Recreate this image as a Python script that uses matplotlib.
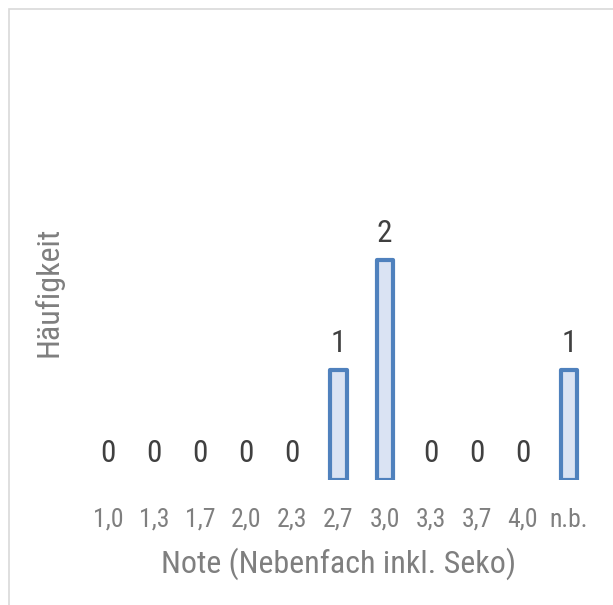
import matplotlib
matplotlib.use("Agg")
import matplotlib.pyplot as plt
from matplotlib.patches import Rectangle

categories = ["1,0", "1,3", "1,7", "2,0", "2,3", "2,7", "3,0", "3,3", "3,7", "4,0", "n.b."]
counts = [0, 0, 0, 0, 0, 1, 2, 0, 0, 0, 1]
x_title = "Note (Nebenfach inkl. Seko)"
y_title = "Häufigkeit"

FONT = ["Roboto Condensed", "DejaVu Sans"]
W, H = 613, 605
fig = plt.figure(figsize=(W / 100, H / 100), dpi=100)

# outer chart border (light gray, cut at right/bottom like the reference)
fig.patches.append(Rectangle((8.5 / W, -0.1), 1.2, 1 - 8.5 / H + 0.1, transform=fig.transFigure,
                             fill=False, edgecolor="#d9d9d9", linewidth=1.2))

ax_l, ax_r, ax_b, ax_t = 85, 592, 480, 40
ax = fig.add_axes([ax_l / W, (H - ax_b) / H, (ax_r - ax_l) / W, (ax_b - ax_t) / H])
xs = list(range(len(categories)))
bars = ax.bar(xs, counts, width=0.35, color="#dae3f3", edgecolor="#4f81bd", linewidth=3.0)
for b, v in zip(bars, counts):
    b.set_joinstyle("round")
    if v == 0:
        b.set_visible(False)
ax.set_xlim(-0.5, len(categories) - 0.5)
ax.set_ylim(0, 4)
for s in ax.spines.values():
    s.set_visible(False)
ax.set_yticks([])
ax.set_xticks(xs)
ax.set_xticklabels(categories, fontsize=18.5, color="#7f7f7f", family=FONT)
ax.tick_params(axis="x", length=0, pad=20)

for x, v in zip(xs, counts):
    ax.annotate(str(v), (x, v), xytext=(0, 13), textcoords="offset points",
                ha="center", va="baseline", fontsize=22.5, color="#404040", family=FONT)

ax.set_xlabel(x_title, fontsize=23, color="#7f7f7f", family=FONT, va="baseline")
ax.xaxis.set_label_coords((339 - ax_l) / (ax_r - ax_l), -(573 - ax_b) / (ax_b - ax_t))
ax.set_ylabel(y_title, fontsize=23, color="#7f7f7f", family=FONT, va="center")
ax.yaxis.set_label_coords((48 - ax_l) / (ax_r - ax_l), (ax_b - 292) / (ax_b - ax_t))

fig.savefig("out.png", dpi=100)
